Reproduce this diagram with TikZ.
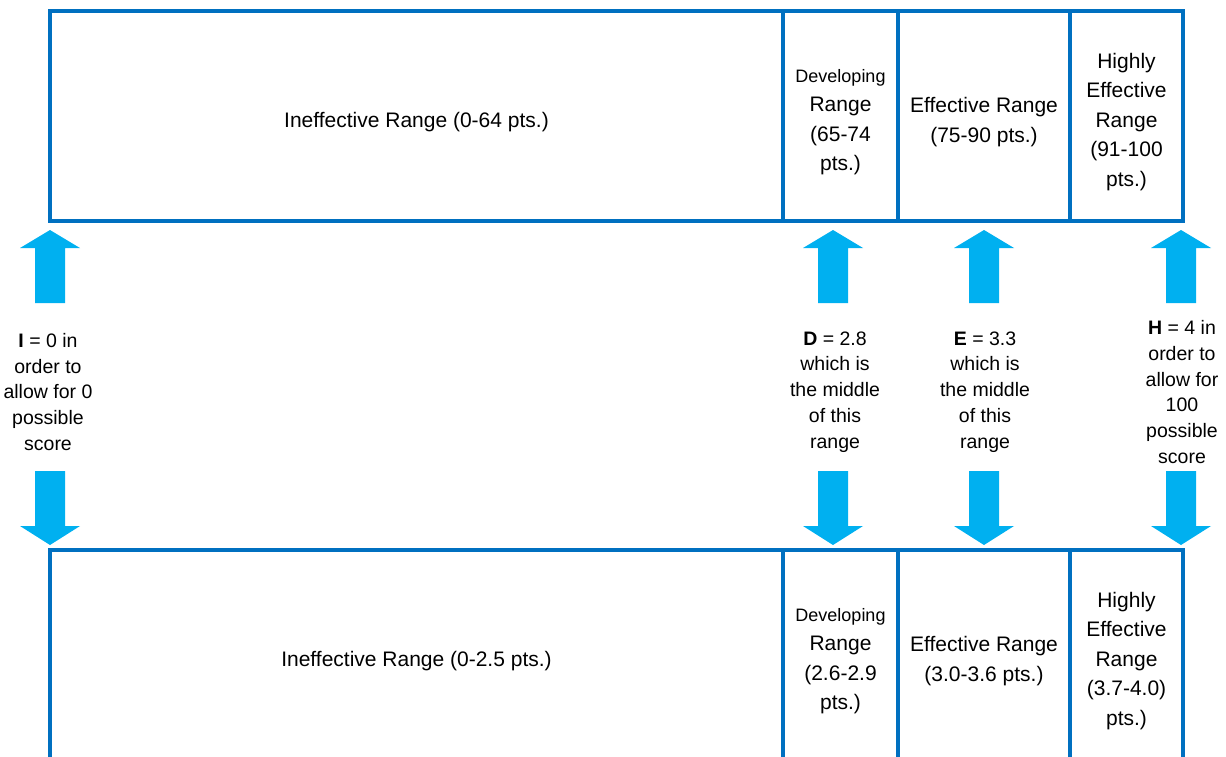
\documentclass[tikz,border=0pt]{standalone}
\usepackage{fontspec}
\setmainfont{Liberation Sans}
\definecolor{boxblue}{HTML}{0070C0}
\definecolor{arrblue}{HTML}{00B0F0}
\newcommand\ArrUp[1]{\fill[arrblue] (#1-15,303) -- (#1-15,248) -- (#1-30,248) -- (#1,230) -- (#1+30,248) -- (#1+15,248) -- (#1+15,303) -- cycle;}
\newcommand\ArrDown[1]{\fill[arrblue] (#1-15,471) -- (#1-15,526) -- (#1-30,526) -- (#1,545) -- (#1+30,526) -- (#1+15,526) -- (#1+15,471) -- cycle;}
\tikzset{
  cellbox/.style={draw=boxblue, line width=4pt, inner sep=0pt, outer sep=0pt, minimum height=210pt},
  celltext/.style={align=center, inner sep=0pt, font=\fontsize{21}{29.5}\selectfont},
  midtext/.style={align=center, inner sep=0pt, font=\fontsize{19.5}{25.8}\selectfont},
}
\newcommand\devfont{\fontsize{18}{29.5}\selectfont}
\begin{document}
\begin{tikzpicture}[x=1pt,y=-1pt]
\clip (0,0) rectangle (1226,757);
\fill[white] (0,0) rectangle (1226,757);
% top row
\node[cellbox, minimum width=733pt] (tI) at (416.5,116) {};
\node[cellbox, minimum width=115pt] (tD) at (840.5,116) {};
\node[cellbox, minimum width=172pt] (tE) at (984,116) {};
\node[cellbox, minimum width=113pt] (tH) at (1126.5,116) {};
\node[celltext] (tIt) at ([yshift=-6pt]tI.center) {Ineffective Range (0-64 pts.)};
\node[celltext] (tDt) at ([yshift=-6pt]tD.center) {{\devfont Developing}\\Range\\(65-74\\pts.)};
\node[celltext] (tEt) at ([yshift=-6pt]tE.center) {Effective Range\\(75-90 pts.)};
\node[celltext] (tHt) at ([yshift=-6pt]tH.center) {Highly\\Effective\\Range\\(91-100\\pts.)};
% bottom row
\node[cellbox, minimum width=733pt] (bI) at (416.5,655) {};
\node[cellbox, minimum width=115pt] (bD) at (840.5,655) {};
\node[cellbox, minimum width=172pt] (bE) at (984,655) {};
\node[cellbox, minimum width=113pt] (bH) at (1126.5,655) {};
\node[celltext] (bIt) at ([yshift=-6pt]bI.center) {Ineffective Range (0-2.5 pts.)};
\node[celltext] (bDt) at ([yshift=-6pt]bD.center) {{\devfont Developing}\\Range\\(2.6-2.9\\pts.)};
\node[celltext] (bEt) at ([yshift=-6pt]bE.center) {Effective Range\\(3.0-3.6 pts.)};
\node[celltext] (bHt) at ([yshift=-6pt]bH.center) {Highly\\Effective\\Range\\(3.7-4.0)\\pts.)};
% arrows
\ArrUp{50}\ArrUp{833}\ArrUp{984}\ArrUp{1181}
\ArrDown{50}\ArrDown{833}\ArrDown{984}\ArrDown{1181}
% middle labels
\node[midtext] (mI) at (48,392) {\textbf{I} = 0 in\\order to\\allow for 0\\possible\\score};
\node[midtext] (mD) at (835,392) {\textbf{D} = 2.8\\which is\\the middle\\of this\\range};
\node[midtext] (mE) at (985,392) {\textbf{E} = 3.3\\which is\\the middle\\of this\\range};
\node[midtext] (mH) at (1182,392) {\textbf{H} = 4 in\\order to\\allow for\\100\\possible\\score};
\end{tikzpicture}
\end{document}
